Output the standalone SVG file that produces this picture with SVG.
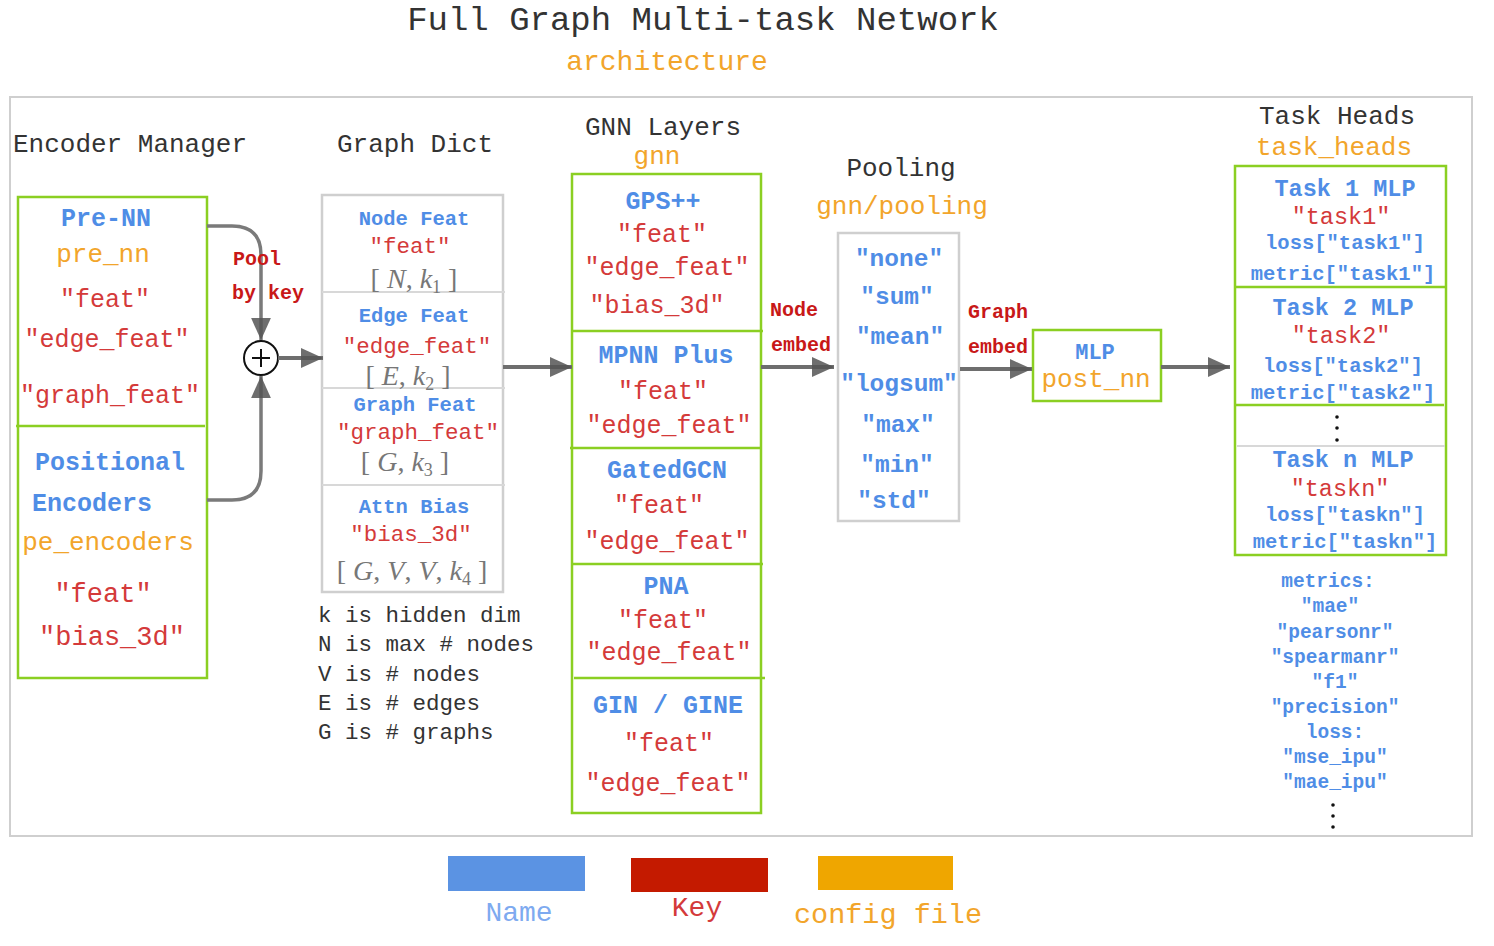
<svg xmlns="http://www.w3.org/2000/svg" width="1494" height="946" viewBox="0 0 1494 946">
<defs>
<style>
text{font-family:"Liberation Mono","Courier New",monospace;}
.hd{font-size:26px;fill:#333;}
.cfg{font-size:26px;fill:#f2a52b;}
.nm{font-size:25px;font-weight:bold;fill:#4f8de6;}
.nmt{font-size:23.5px;font-weight:bold;fill:#4f8de6;}
.nms{font-size:20.5px;font-weight:bold;fill:#4f8de6;}
.key{font-size:25px;fill:#d43a3a;}
.keyt{font-size:23.5px;fill:#d43a3a;}
.keys{font-size:22.5px;fill:#d43a3a;}
.lab{font-size:20px;font-weight:bold;fill:#c81818;}
.note{font-size:22.5px;fill:#333;}
.math{font-family:"Liberation Serif","Times New Roman",serif;font-size:28px;fill:#777;}
.math .i{font-style:italic;}
.gbox{fill:#fff;stroke:#8bcf22;stroke-width:2.5;}
.kbox{fill:#fff;stroke:#cfcfcf;stroke-width:2.5;}
.gdiv{stroke:#8bcf22;stroke-width:2.5;}
.kdiv{stroke:#d8d8d8;stroke-width:2;}
.conn{fill:none;stroke:#6e6e6e;stroke-width:4;marker-end:url(#ah);}
.curve{fill:none;stroke:#7a7a7a;stroke-width:3.5;marker-end:url(#ah);}
.c{text-anchor:middle;}
</style>
<marker id="ah" viewBox="0 0 10 10" refX="10" refY="5" markerWidth="22" markerHeight="22" markerUnits="userSpaceOnUse" orient="auto">
<path d="M0,0.5 L10,5 L0,9.5 z" fill="#555" fill-opacity="0.85"/>
</marker>
</defs>
<rect width="1494" height="946" fill="#fff"/>

<g id="title">
<text x="703" y="30" class="c" style="font-size:34px;fill:#333">Full Graph Multi-task Network</text>
<text x="667" y="70" class="c" style="font-size:28px;fill:#f2a52b">architecture</text>
</g>

<rect id="frame" x="10" y="97" width="1462" height="739" fill="none" stroke="#cfcfcf" stroke-width="2"/>

<g id="headers">
<text x="130" y="152" class="hd c">Encoder Manager</text>
<text x="415" y="152" class="hd c">Graph Dict</text>
<text x="663" y="135" class="hd c">GNN Layers</text>
<text x="657" y="164" class="cfg c">gnn</text>
<text x="901" y="176" class="hd c">Pooling</text>
<text x="902" y="214" class="cfg c">gnn/pooling</text>
<text x="1337" y="124" class="hd c">Task Heads</text>
<text x="1334" y="155" class="cfg c">task_heads</text>
</g>

<g id="encoder-manager">
<rect x="18" y="197" width="189" height="481" class="gbox"/>
<line x1="16" y1="426" x2="205" y2="426" class="gdiv"/>
<text x="106" y="226" class="nm c">Pre-NN</text>
<text x="103" y="262" class="cfg c">pre_nn</text>
<text x="105" y="307" class="key c">"feat"</text>
<text x="107" y="347" class="key c">"edge_feat"</text>
<text x="110" y="403" class="key c">"graph_feat"</text>
<text x="110" y="470" class="nm c">Positional</text>
<text x="32" y="511" class="nm">Encoders</text>
<text x="108" y="550" class="cfg c">pe_encoders</text>
<text x="103" y="602" class="key c" style="font-size:27px">"feat"</text>
<text x="112" y="645" class="key c" style="font-size:27px">"bias_3d"</text>
</g>

<g id="pool-by-key">
<circle cx="261" cy="358" r="17" fill="#fff" stroke="#111" stroke-width="2"/>
<path d="M252,358 H270 M261,349 V367" stroke="#111" stroke-width="2"/>
</g>

<g id="graph-dict">
<rect x="322" y="195" width="181" height="397" class="kbox"/>
<line x1="322" y1="292" x2="505" y2="292" class="kdiv"/>
<line x1="322" y1="388" x2="505" y2="388" class="kdiv"/>
<line x1="322" y1="485" x2="505" y2="485" class="kdiv"/>
<text x="414" y="225" class="nms c">Node Feat</text>
<text x="410" y="253" class="keys c">"feat"</text>
<text x="414" y="288" class="math c">[ <tspan class="i">N</tspan>, <tspan class="i">k</tspan><tspan font-size="18" dy="5">1</tspan><tspan dy="-5"> ]</tspan></text>
<text x="414" y="322" class="nms c">Edge Feat</text>
<text x="417" y="353" class="keys c">"edge_feat"</text>
<text x="408" y="385" class="math c">[ <tspan class="i">E</tspan>, <tspan class="i">k</tspan><tspan font-size="18" dy="5">2</tspan><tspan dy="-5"> ]</tspan></text>
<text x="415" y="411" class="nms c">Graph Feat</text>
<text x="418" y="439" class="keys c">"graph_feat"</text>
<text x="405" y="471" class="math c">[ <tspan class="i">G</tspan>, <tspan class="i">k</tspan><tspan font-size="18" dy="5">3</tspan><tspan dy="-5"> ]</tspan></text>
<text x="414" y="513" class="nms c">Attn Bias</text>
<text x="411" y="541" class="keys c">"bias_3d"</text>
<text x="412" y="580" class="math c">[ <tspan class="i">G</tspan>, <tspan class="i">V</tspan>, <tspan class="i">V</tspan>, <tspan class="i">k</tspan><tspan font-size="18" dy="5">4</tspan><tspan dy="-5"> ]</tspan></text>
</g>

<g id="dims-note">
<text x="318" y="622" class="note">k is hidden dim</text>
<text x="318" y="651" class="note">N is max # nodes</text>
<text x="318" y="681" class="note">V is # nodes</text>
<text x="318" y="710" class="note">E is # edges</text>
<text x="318" y="739" class="note">G is # graphs</text>
</g>

<g id="gnn-layers">
<rect x="572" y="174" width="189" height="639" class="gbox"/>
<line x1="572" y1="331" x2="763" y2="331" class="gdiv"/>
<line x1="570" y1="448" x2="761" y2="448" class="gdiv"/>
<line x1="572" y1="564" x2="763" y2="564" class="gdiv"/>
<line x1="574" y1="678" x2="765" y2="678" class="gdiv"/>
<text x="663" y="209" class="nm c">GPS++</text>
<text x="662" y="242" class="key c">"feat"</text>
<text x="667" y="275" class="key c">"edge_feat"</text>
<text x="657" y="313" class="key c">"bias_3d"</text>
<text x="666" y="363" class="nm c">MPNN Plus</text>
<text x="663" y="399" class="key c">"feat"</text>
<text x="669" y="433" class="key c">"edge_feat"</text>
<text x="667" y="478" class="nm c">GatedGCN</text>
<text x="659" y="513" class="key c">"feat"</text>
<text x="667" y="549" class="key c">"edge_feat"</text>
<text x="666" y="594" class="nm c">PNA</text>
<text x="663" y="628" class="key c">"feat"</text>
<text x="669" y="660" class="key c">"edge_feat"</text>
<text x="668" y="713" class="nm c">GIN / GINE</text>
<text x="669" y="751" class="key c">"feat"</text>
<text x="668" y="791" class="key c">"edge_feat"</text>
</g>

<g id="pooling">
<rect x="838" y="233" width="121" height="288" class="kbox"/>
<text x="899" y="266" class="nm c" style="font-size:24.5px">"none"</text>
<text x="897" y="304" class="nm c" style="font-size:24.5px">"sum"</text>
<text x="900" y="344" class="nm c" style="font-size:24.5px">"mean"</text>
<text x="899" y="391" class="nm c" style="font-size:24.5px">"logsum"</text>
<text x="898" y="432" class="nm c" style="font-size:24.5px">"max"</text>
<text x="897" y="472" class="nm c" style="font-size:24.5px">"min"</text>
<text x="894" y="508" class="nm c" style="font-size:24.5px">"std"</text>
</g>

<g id="post-nn">
<rect x="1033" y="330" width="128" height="71" class="gbox"/>
<text x="1095" y="359" class="nm c" style="font-size:22px">MLP</text>
<text x="1096" y="387" class="cfg c">post_nn</text>
</g>

<g id="task-heads">
<rect x="1235" y="166" width="211" height="389" class="gbox"/>
<line x1="1235" y1="287" x2="1446" y2="287" class="gdiv"/>
<line x1="1235" y1="405" x2="1444" y2="405" class="gdiv"/>
<line x1="1237" y1="446" x2="1445" y2="446" class="kdiv"/>
<text x="1345" y="196" class="nmt c">Task 1 MLP</text>
<text x="1341" y="224" class="keyt c">"task1"</text>
<text x="1345" y="249" class="nms c">loss["task1"]</text>
<text x="1343" y="280" class="nms c">metric["task1"]</text>
<text x="1343" y="315" class="nmt c">Task 2 MLP</text>
<text x="1341" y="343" class="keyt c">"task2"</text>
<text x="1343" y="372" class="nms c">loss["task2"]</text>
<text x="1343" y="399" class="nms c">metric["task2"]</text>
<circle cx="1337" cy="417" r="1.8" fill="#111"/>
<circle cx="1337" cy="428" r="1.8" fill="#111"/>
<circle cx="1337" cy="440" r="1.8" fill="#111"/>
<text x="1343" y="467" class="nmt c">Task n MLP</text>
<text x="1340" y="496" class="keyt c">"taskn"</text>
<text x="1345" y="521" class="nms c">loss["taskn"]</text>
<text x="1345" y="548" class="nms c">metric["taskn"]</text>
</g>

<g id="metrics-list">
<text x="1328" y="587" class="nms c" style="font-size:19.5px">metrics:</text>
<text x="1330" y="612" class="nms c" style="font-size:19.5px">"mae"</text>
<text x="1335" y="638" class="nms c" style="font-size:19.5px">"pearsonr"</text>
<text x="1335" y="663" class="nms c" style="font-size:19.5px">"spearmanr"</text>
<text x="1335" y="688" class="nms c" style="font-size:19.5px">"f1"</text>
<text x="1335" y="713" class="nms c" style="font-size:19.5px">"precision"</text>
<text x="1335" y="738" class="nms c" style="font-size:19.5px">loss:</text>
<text x="1335" y="763" class="nms c" style="font-size:19.5px">"mse_ipu"</text>
<text x="1335" y="788" class="nms c" style="font-size:19.5px">"mae_ipu"</text>
<circle cx="1333" cy="805" r="1.8" fill="#111"/>
<circle cx="1333" cy="816" r="1.8" fill="#111"/>
<circle cx="1333" cy="827" r="1.8" fill="#111"/>
</g>

<g id="connectors">
<path d="M207,226 H232 Q261,226 261,255 V340" class="curve"/>
<path d="M207,500 H232 Q261,500 261,471 V376" class="curve"/>
<path d="M278,358 H323" class="conn"/>
<path d="M503,367 H572" class="conn"/>
<path d="M761,367 H834" class="conn"/>
<path d="M960,369 H1032" class="conn"/>
<path d="M1161,367 H1230" class="conn"/>
<text x="233" y="265" class="lab">Pool</text>
<text x="232" y="299" class="lab">by key</text>
<text x="770" y="316" class="lab">Node</text>
<text x="771" y="351" class="lab">embed</text>
<text x="968" y="318" class="lab">Graph</text>
<text x="968" y="353" class="lab">embed</text>
</g>

<g id="legend">
<rect x="448" y="856" width="137" height="35" fill="#5b93e3"/>
<rect x="631" y="858" width="137" height="34" fill="#c41a00"/>
<rect x="818" y="856" width="135" height="34" fill="#efa600"/>
<text x="519" y="921" class="c" style="font-size:28px;fill:#7eaaf0">Name</text>
<text x="697" y="916" class="c" style="font-size:28px;fill:#d43a3a">Key</text>
<text x="888" y="923" class="c" style="font-size:28.5px;fill:#f2a52b">config file</text>
</g>
</svg>
